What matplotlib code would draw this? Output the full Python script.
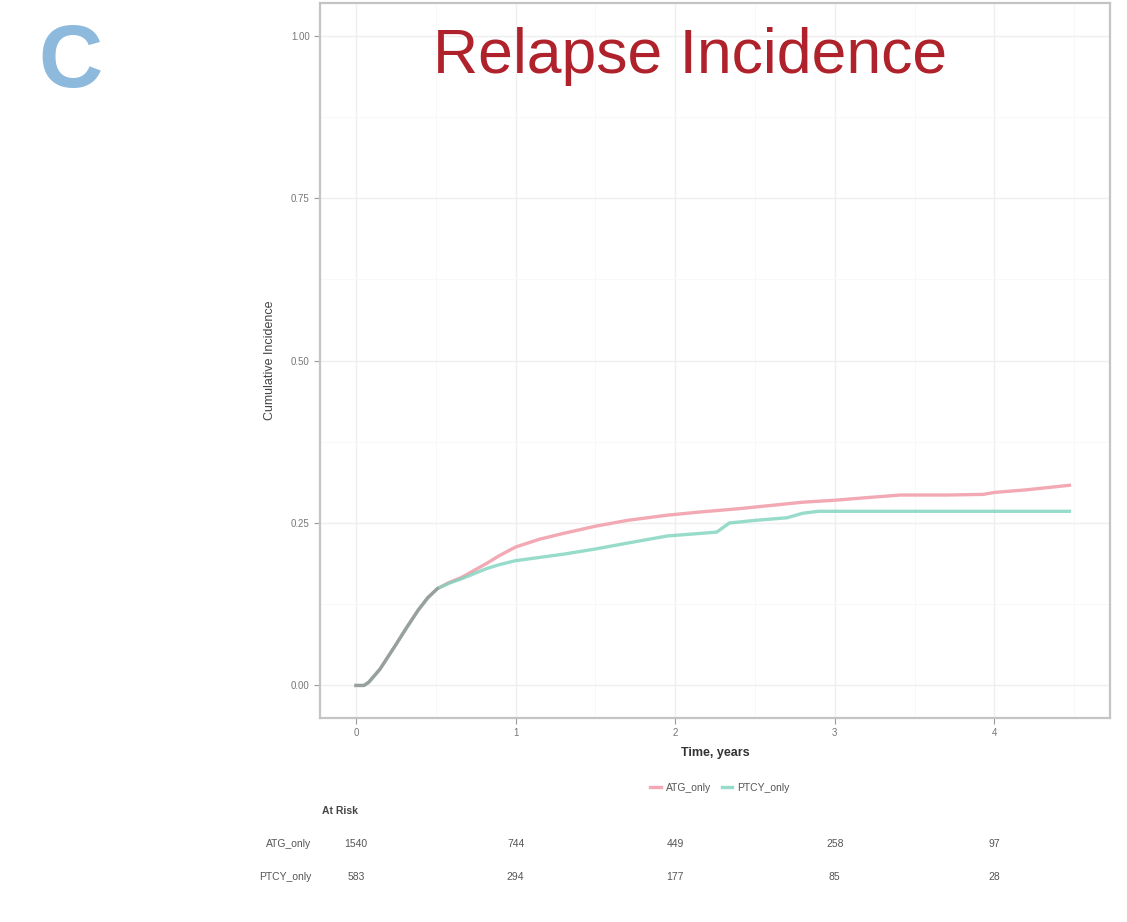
import numpy as np
import matplotlib
matplotlib.use("Agg")
import matplotlib.pyplot as plt
from matplotlib.transforms import blended_transform_factory

plt.rcParams['font.family'] = ['Liberation Sans Narrow', 'Liberation Sans', 'DejaVu Sans']

# cumulative incidence of relapse, by group
atg_t = [0, 0.05, 0.08, 0.15, 0.24, 0.32, 0.39, 0.45, 0.51, 0.58, 0.66, 0.74, 0.82, 0.9, 1.0,
         1.15, 1.3, 1.5, 1.7, 1.95, 2.16, 2.4, 2.6, 2.8, 3.0, 3.2, 3.41, 3.7, 3.93, 4.0, 4.2, 4.47]
atg_ci = [0, 0, 0.005, 0.025, 0.059, 0.09, 0.116, 0.135, 0.149, 0.158, 0.166, 0.177, 0.188, 0.2, 0.213,
          0.225, 0.234, 0.245, 0.254, 0.262, 0.267, 0.272, 0.277, 0.282, 0.285, 0.289, 0.293, 0.293, 0.294, 0.297, 0.301, 0.308]

ptcy_t = [0, 0.05, 0.08, 0.15, 0.24, 0.32, 0.39, 0.45, 0.51, 0.58, 0.66, 0.74, 0.82, 0.9, 1.0,
          1.15, 1.3, 1.5, 1.7, 1.95, 2.16, 2.26, 2.34, 2.5, 2.7, 2.8, 2.9, 3.2, 3.6, 4.0, 4.47]
ptcy_ci = [0, 0, 0.005, 0.025, 0.059, 0.09, 0.116, 0.135, 0.149, 0.157, 0.164, 0.172, 0.18, 0.186, 0.192,
           0.197, 0.202, 0.21, 0.219, 0.23, 0.234, 0.236, 0.25, 0.254, 0.258, 0.265, 0.268, 0.268, 0.268, 0.268, 0.268]

groups = ['ATG_only', 'PTCY_only']
colors = ['#F2A9B3', '#7DD3BE']

# numbers at risk
risk_times = [0, 1, 2, 3, 4]
atg_risk = [1540, 744, 449, 258, 97]
ptcy_risk = [583, 294, 177, 85, 28]

fig = plt.figure(figsize=(11.27, 9.22), dpi=100)
ax = fig.add_axes([0.284, 0.2213, 0.701, 0.7754])

ax.plot(atg_t, atg_ci, color=colors[0], lw=2.4, label=groups[0])
ax.plot(ptcy_t, ptcy_ci, color=colors[1], lw=2.4, alpha=0.8, label=groups[1])
# where the two curves coincide the overlap reads as grey
ax.plot(ptcy_t[:9], ptcy_ci[:9], color='#999999', lw=2.2, alpha=0.85)

ax.set_xlim(-0.225, 4.725)
ax.set_ylim(-0.05, 1.05)
ax.set_xticks([0, 1, 2, 3, 4])
ax.set_yticks([0, 0.25, 0.5, 0.75, 1.0])
ax.set_yticklabels(['0.00', '0.25', '0.50', '0.75', '1.00'])
ax.set_xticks([0.5, 1.5, 2.5, 3.5, 4.5], minor=True)
ax.set_yticks([0.125, 0.375, 0.625, 0.875], minor=True)
ax.grid(which='major', color='#efefef', lw=1.0)
ax.grid(which='minor', color='#f7f7f7', lw=0.6)
ax.set_axisbelow(True)
ax.tick_params(which='major', labelsize=7, colors='#999999', labelcolor='#777777', length=4, width=0.8)
ax.tick_params(which='minor', length=0)
for s in ax.spines.values():
    s.set_color('#c4c4c4')
    s.set_linewidth(1.6)

ax.set_xlabel('Time, years', fontsize=9, fontweight='bold', color='#333333', labelpad=6)
fig.text(270 / 1127, 1 - 360 / 922, 'Cumulative Incidence', rotation=90, fontsize=9,
         color='#444444', ha='center', va='center')

fig.text(690 / 1127, 1 - 57 / 922, 'Relapse Incidence', fontsize=45, color='#B0222B',
         ha='center', va='center', family=['Liberation Sans', 'DejaVu Sans'])
fig.text(70 / 1127, 1 - 64 / 922, 'C', fontsize=64, fontweight='bold', color='#8DB9DC',
         ha='center', va='center', family=['Liberation Sans', 'DejaVu Sans'])

fig.legend(loc='center', bbox_to_anchor=(720 / 1127, 1 - 788 / 922), ncol=2, frameon=False,
           fontsize=7.5, handlelength=1.0, columnspacing=1.0, handletextpad=0.5,
           labelcolor='#555555')

# at-risk table under the plot
tr = blended_transform_factory(ax.transData, fig.transFigure)
fig.text(340 / 1127, 1 - 811 / 922, 'At Risk', fontsize=7.5, fontweight='bold', color='#444444',
         ha='center', va='center')
for name, counts, ypix in [(groups[0], atg_risk, 844), (groups[1], ptcy_risk, 877)]:
    yf = 1 - ypix / 922
    fig.text(311 / 1127, yf, name, fontsize=7.5, color='#555555', ha='right', va='center')
    for t, n in zip(risk_times, counts):
        ax.text(t, yf, str(n), transform=tr, fontsize=7.5, color='#555555',
                ha='center', va='center', clip_on=False)

fig.savefig('out.png', dpi=100)
